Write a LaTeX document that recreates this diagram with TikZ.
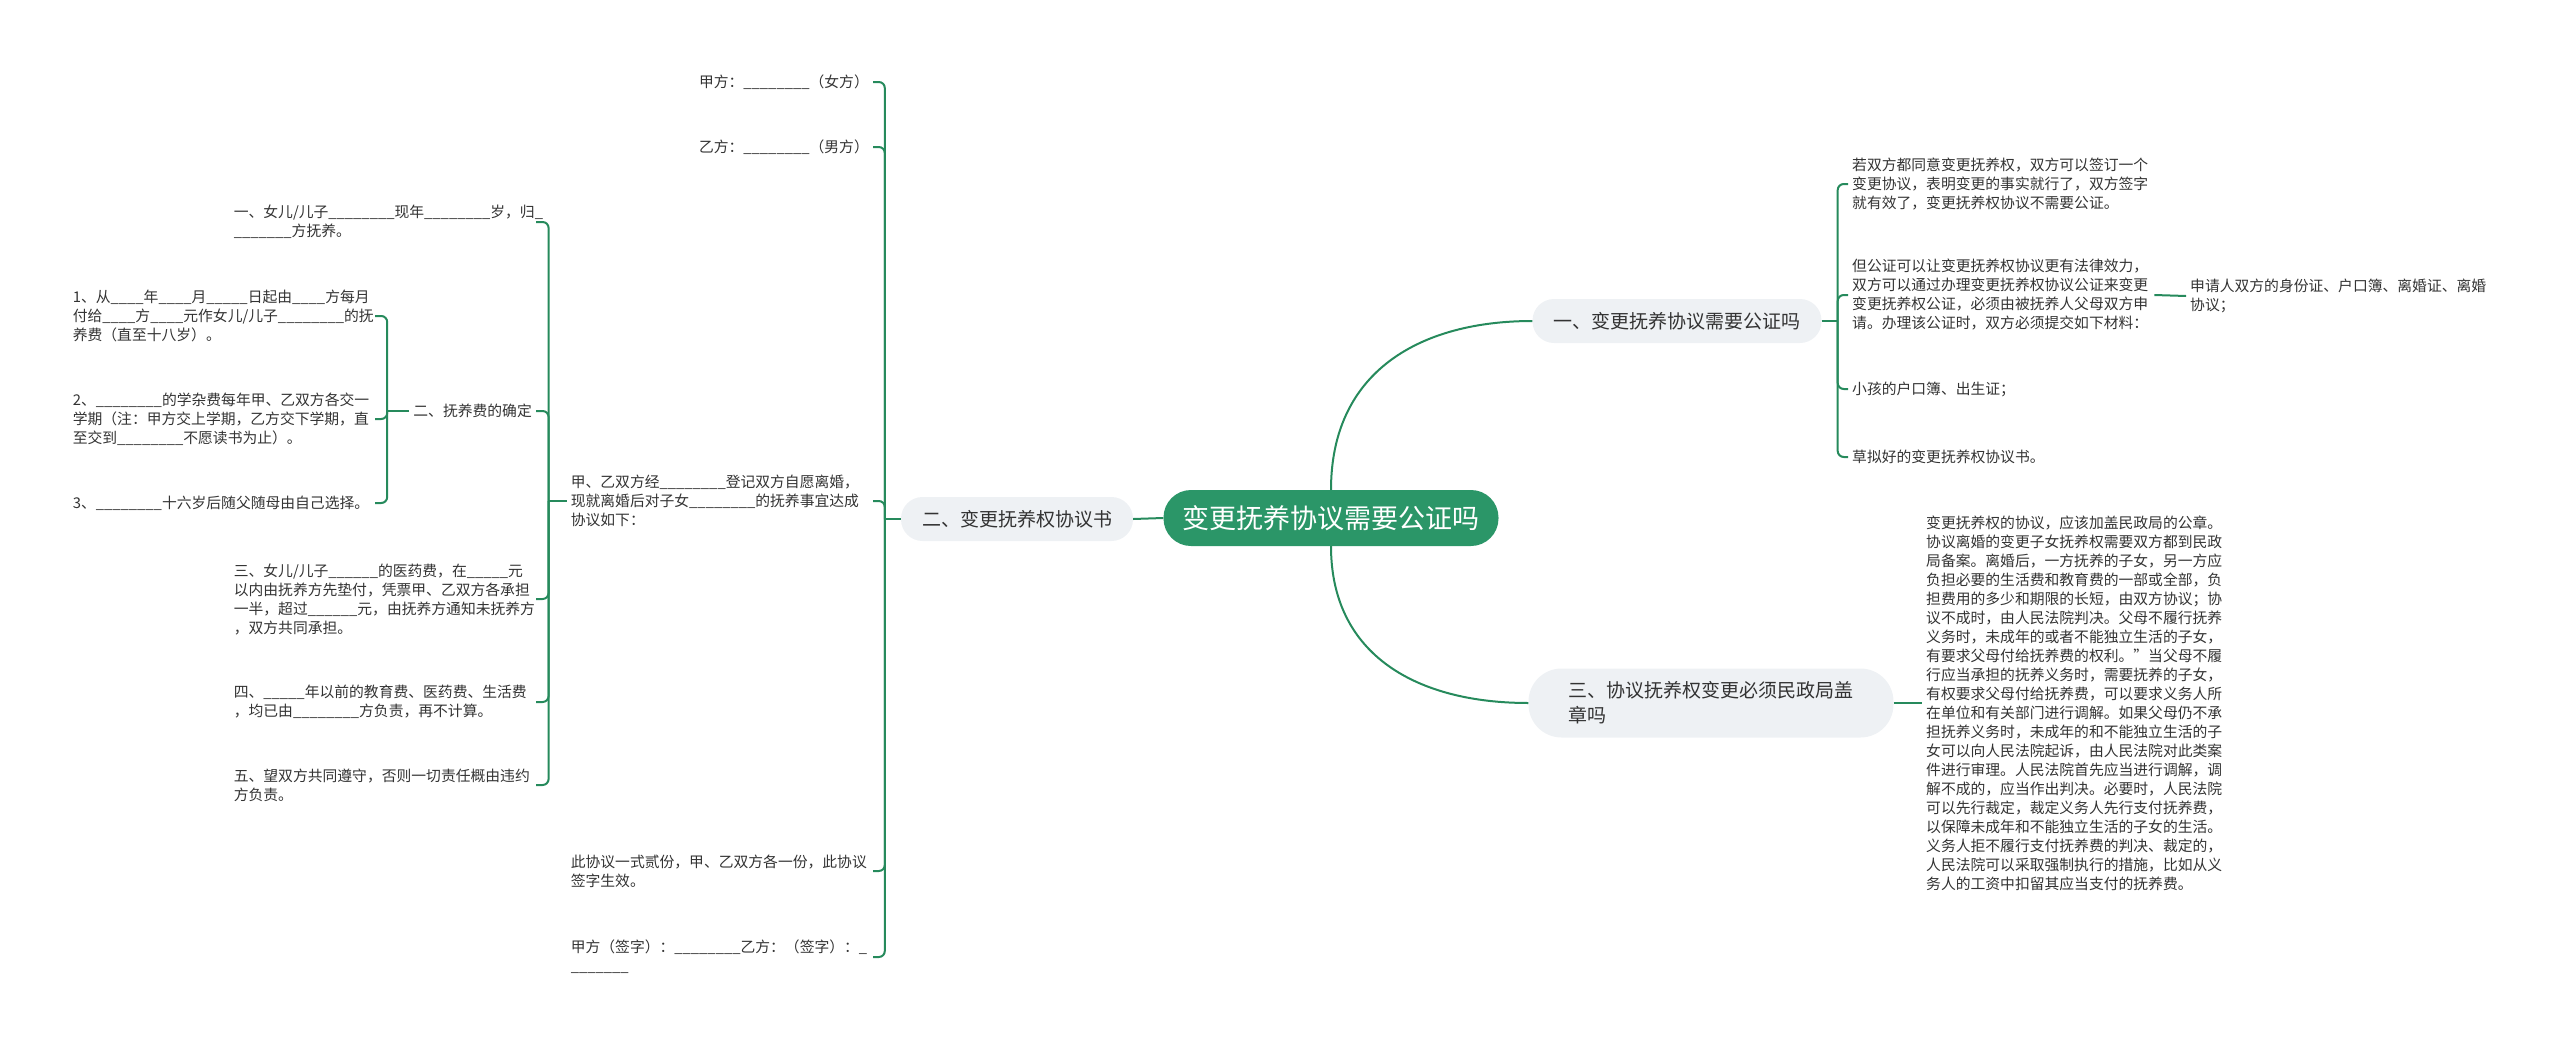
\documentclass[tikz,border=0pt]{standalone}
\usepackage{fontspec}
\newfontfamily\cjk{Noto Sans CJK SC}
\definecolor{rootgreen}{HTML}{2B9668}
\definecolor{linkgreen}{HTML}{268A5C}
\definecolor{pillgray}{HTML}{EEF1F4}
\definecolor{inkgray}{HTML}{333333}
\newcommand\leaffont{\cjk\fontsize{14.8pt}{19pt}\selectfont}
\newcommand\branchfont{\cjk\fontsize{19pt}{25pt}\selectfont}
\newcommand\rootfont{\cjk\fontsize{27pt}{32pt}\selectfont}
\newcommand\bk[1]{\ifnum#1>0 \_\expandafter\bk\expandafter{\the\numexpr#1-1\relax}\fi}

\begin{document}
\begin{tikzpicture}[x=1pt, y=-1pt]
        \tikzstyle{mainnode}=[fill=rootgreen, text=white, rounded corners=27.5pt, minimum width=335pt, minimum height=56pt, font=\rootfont]
        \tikzstyle{topic}=[fill=pillgray, text=inkgray, rounded corners=21.5pt, minimum height=44pt, inner xsep=21pt, font=\branchfont]
        \tikzstyle{leafnode}=[text=inkgray, font=\leaffont, align=left, inner xsep=4pt, inner ysep=2pt]
        \tikzstyle{wide}=[text width=298pt]
        \tikzstyle{link}=[draw=linkgreen, line width=2pt, rounded corners=6pt]

        \useasboundingbox (0,0) rectangle (2560,1044);

        \node[mainnode] (root) at (1331,518) {变更抚养协议需要公证吗};
        \node[topic] (need) at (1677,321) {一、变更抚养协议需要公证吗};
        \node[topic] (book) at (1017,519) {二、变更抚养权协议书};
        \node[topic, align=left, minimum width=365pt, minimum height=69pt, rounded corners=33pt] (seal) at (1711,703) {三、协议抚养权变更必须民政局盖\\章吗};

        \node[leafnode, wide, anchor=west] (agreeok) at (1848,184) {若双方都同意变更抚养权，双方可以签订一个\\变更协议，表明变更的事实就行了，双方签字\\就有效了，变更抚养权协议不需要公证。};
        \node[leafnode, wide, anchor=west] (notary) at (1848,295) {但公证可以让变更抚养权协议更有法律效力，\\双方可以通过办理变更抚养权协议公证来变更\\变更抚养权公证，必须由被抚养人父母双方申\\请。办理该公证时，双方必须提交如下材料：};
        \node[leafnode, wide, anchor=west] (ids) at (2186,296) {申请人双方的身份证、户口簿、离婚证、离婚\\协议；};
        \node[leafnode, anchor=west] (hukou) at (1848,389) {小孩的户口簿、出生证；};
        \node[leafnode, anchor=west] (draft) at (1848,457) {草拟好的变更抚养权协议书。};
        \node[leafnode, wide, anchor=west] (law) at (1922,703) {变更抚养权的协议，应该加盖民政局的公章。\\协议离婚的变更子女抚养权需要双方都到民政\\局备案。离婚后，一方抚养的子女，另一方应\\负担必要的生活费和教育费的一部或全部，负\\担费用的多少和期限的长短，由双方协议；协\\议不成时，由人民法院判决。父母不履行抚养\\义务时，未成年的或者不能独立生活的子女，\\有要求父母付给抚养费的权利。”当父母不履\\行应当承担的抚养义务时，需要抚养的子女，\\有权要求父母付给抚养费，可以要求义务人所\\在单位和有关部门进行调解。如果父母仍不承\\担抚养义务时，未成年的和不能独立生活的子\\女可以向人民法院起诉，由人民法院对此类案\\件进行审理。人民法院首先应当进行调解，调\\解不成的，应当作出判决。必要时，人民法院\\可以先行裁定，裁定义务人先行支付抚养费，\\以保障未成年和不能独立生活的子女的生活。\\义务人拒不履行支付抚养费的判决、裁定的，\\人民法院可以采取强制执行的措施，比如从义\\务人的工资中扣留其应当支付的抚养费。};

        \node[leafnode, anchor=east] (partya) at (873,82) {甲方：\bk{8}（女方）};
        \node[leafnode, anchor=east] (partyb) at (873,147) {乙方：\bk{8}（男方）};
        \node[leafnode, wide, anchor=east] (terms) at (873,501) {甲、乙双方经\bk{8}登记双方自愿离婚，\\现就离婚后对子女\bk{8}的抚养事宜达成\\协议如下：};
        \node[leafnode, wide, anchor=east] (copies) at (873,871) {此协议一式贰份，甲、乙双方各一份，此协议\\签字生效。};
        \node[leafnode, wide, anchor=east] (signs) at (873,957) {甲方（签字）：\bk{8}乙方：（签字）：\bk{1}\\\bk{7}};

        \node[leafnode, wide, anchor=east] (custody) at (536,222) {一、女儿/儿子\bk{8}现年\bk{8}岁，归\bk{1}\\\bk{7}方抚养。};
        \node[leafnode, anchor=east] (fee) at (536,411) {二、抚养费的确定};
        \node[leafnode, wide, anchor=east] (medical) at (536,599) {三、女儿/儿子\bk{6}的医药费，在\bk{5}元\\以内由抚养方先垫付，凭票甲、乙双方各承担\\一半，超过\bk{6}元，由抚养方通知未抚养方\\，双方共同承担。};
        \node[leafnode, wide, anchor=east] (past) at (536,702) {四、\bk{5}年以前的教育费、医药费、生活费\\，均已由\bk{8}方负责，再不计算。};
        \node[leafnode, wide, anchor=east] (abide) at (536,785) {五、望双方共同遵守，否则一切责任概由违约\\方负责。};

        \node[leafnode, wide, anchor=east] (monthly) at (375,316) {1、从\bk{4}年\bk{4}月\bk{5}日起由\bk{4}方每月\\付给\bk{4}方\bk{4}元作女儿/儿子\bk{8}的抚\\养费（直至十八岁）。};
        \node[leafnode, wide, anchor=east] (tuition) at (375,419) {2、\bk{8}的学杂费每年甲、乙双方各交一\\学期（注：甲方交上学期，乙方交下学期，直\\至交到\bk{8}不愿读书为止）。};
        \node[leafnode, wide, anchor=east] (choice) at (375,503) {3、\bk{8}十六岁后随父随母由自己选择。};

        \draw[link] (root.west) -- (book.east);
        \draw[link] (root.north) .. controls +(0,-120) and +(-110,0) .. (need.west);
        \draw[link] (root.south) .. controls +(0,110) and +(-110,0) .. (seal.west);

        \draw[link] (need.east) -- ++(16,0) coordinate (needfork);
        \foreach \n in {agreeok,notary,hukou,draft} \draw[link] (needfork) |- (\n.west);
        \draw[link] (notary.east) -- (ids.west);
        \draw[link] (seal.east) -- (law.west);

        \draw[link] (book.west) -- ++(-16,0) coordinate (bookfork);
        \foreach \n in {partya,partyb,terms,copies,signs} \draw[link] (bookfork) |- (\n.east);
        \draw[link] (terms.west) -- ++(-18,0) coordinate (termsfork);
        \foreach \n in {custody,fee,medical,past,abide} \draw[link] (termsfork) |- (\n.east);
        \draw[link] (fee.west) -- ++(-22,0) coordinate (feefork);
        \foreach \n in {monthly,tuition,choice} \draw[link] (feefork) |- (\n.east);
\end{tikzpicture}
\end{document}
